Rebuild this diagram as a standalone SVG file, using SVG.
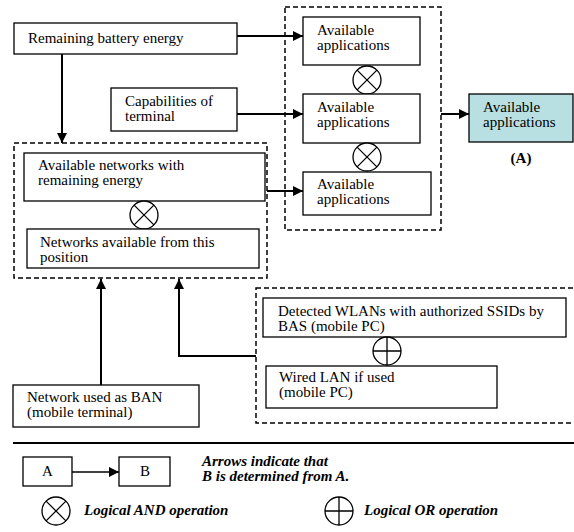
<svg xmlns="http://www.w3.org/2000/svg" width="574" height="532" viewBox="0 0 574 532">
<defs>
<style>
.box{fill:#fff;stroke:#000;stroke-width:1.3}
.dash{fill:none;stroke:#000;stroke-width:1.5;stroke-dasharray:5,3}
.conn{fill:none;stroke:#000;stroke-width:2}
.op{fill:#fff;stroke:#000;stroke-width:1.3}
text{font-family:"Liberation Serif","Times New Roman",serif;font-size:15px;fill:#000}
.leg{font-weight:bold;font-style:italic}
</style>
<marker id="ah" markerWidth="10" markerHeight="10" refX="10" refY="5" orient="auto" markerUnits="userSpaceOnUse">
<path d="M0,0 L10,5 L0,10 Z" fill="#000"/>
</marker>
<g id="and-sym"><circle r="14" class="op"/><path d="M-9.9,-9.9 L9.9,9.9 M-9.9,9.9 L9.9,-9.9" stroke="#000" stroke-width="1.3"/></g>
<g id="or-sym"><circle r="14" class="op"/><path d="M-14,0 L14,0 M0,-14 L0,14" stroke="#000" stroke-width="1.3"/></g>
</defs>
<rect width="574" height="532" fill="#fff"/>

<g id="connectors">
<path class="conn" d="M237,36 L303,36" marker-end="url(#ah)"/>
<path class="conn" d="M237,114 L303,114" marker-end="url(#ah)"/>
<path class="conn" d="M267,191 L303,191" marker-end="url(#ah)"/>
<path class="conn" d="M62,54 L62,143" marker-end="url(#ah)"/>
<path class="conn" d="M441,114 L469,114" marker-end="url(#ah)"/>
<path class="conn" d="M101,385 L101,279" marker-end="url(#ah)"/>
<path class="conn" d="M256,356 L179,356 L179,279" marker-end="url(#ah)"/>
</g>

<g id="battery">
<rect class="box" x="14" y="23" width="223" height="31"/>
<text x="28" y="43">Remaining battery energy</text>
</g>

<g id="capabilities">
<rect class="box" x="111" y="88" width="126" height="43"/>
<text x="125" y="106">Capabilities of</text>
<text x="125" y="121">terminal</text>
</g>

<g id="networks-group">
<rect class="dash" x="14" y="143" width="253" height="135"/>
<rect class="box" x="24" y="153" width="241" height="48"/>
<text x="38" y="170">Available networks with</text>
<text x="38" y="185">remaining energy</text>
<use href="#and-sym" x="144" y="215"/>
<rect class="box" x="27" y="229" width="232" height="39"/>
<text x="40" y="247">Networks available from this</text>
<text x="40" y="262">position</text>
</g>

<g id="apps-group">
<rect class="dash" x="285" y="7" width="156" height="223"/>
<rect class="box" x="303" y="17" width="117" height="48"/>
<text x="317" y="35">Available</text>
<text x="317" y="50">applications</text>
<use href="#and-sym" x="367" y="80"/>
<rect class="box" x="303" y="94" width="117" height="49"/>
<text x="317" y="112">Available</text>
<text x="317" y="127">applications</text>
<use href="#and-sym" x="367" y="157"/>
<rect class="box" x="303" y="172" width="128" height="43"/>
<text x="317" y="189">Available</text>
<text x="317" y="204">applications</text>
</g>

<g id="output">
<rect x="469" y="94" width="104" height="48" fill="#b8dfe2" stroke="#000" stroke-width="1.3"/>
<text x="483" y="112">Available</text>
<text x="483" y="127">applications</text>
<text x="521" y="163" text-anchor="middle" font-weight="bold" font-size="19">(A)</text>
</g>

<g id="lan-group">
<rect class="dash" x="256" y="288" width="330" height="135"/>
<rect class="box" x="263" y="298" width="303" height="39"/>
<text x="278" y="316">Detected WLANs with authorized SSIDs by</text>
<text x="278" y="331">BAS (mobile PC)</text>
<use href="#or-sym" x="387" y="351"/>
<rect class="box" x="266" y="366" width="231" height="42"/>
<text x="279" y="382">Wired LAN if used</text>
<text x="279" y="397">(mobile PC)</text>
</g>

<g id="ban">
<rect class="box" x="13" y="385" width="186" height="42"/>
<text x="27" y="402">Network used as BAN</text>
<text x="27" y="417">(mobile terminal)</text>
</g>

<g id="legend">
<line x1="13" y1="443" x2="574" y2="443" stroke="#000" stroke-width="2"/>
<rect class="box" x="23" y="457" width="49" height="29"/>
<text x="47.5" y="476" text-anchor="middle">A</text>
<path d="M72,472 L119,472" fill="none" stroke="#000" stroke-width="1.5" marker-end="url(#ah)"/>
<rect class="box" x="119" y="457" width="51" height="29"/>
<text x="145" y="476" text-anchor="middle">B</text>
<text class="leg" x="202" y="466">Arrows indicate that</text>
<text class="leg" x="202" y="481">B is determined from A.</text>
<use href="#and-sym" x="56" y="511"/>
<text class="leg" x="84" y="515">Logical AND operation</text>
<use href="#or-sym" x="339" y="511"/>
<text class="leg" x="364" y="515">Logical OR operation</text>
</g>
</svg>
